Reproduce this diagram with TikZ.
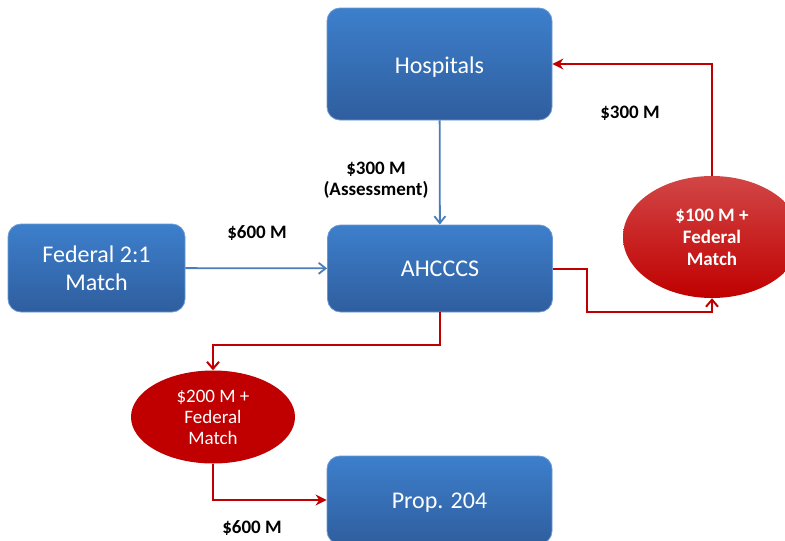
\documentclass[tikz,border=0pt]{standalone}
\usepackage{fontspec}
\setmainfont{Carlito}
\usetikzlibrary{calc,shapes.geometric,arrows.meta}

\definecolor{boxtop}{HTML}{3D7FCC}
\definecolor{boxbot}{HTML}{2F5E9E}
\definecolor{boxedge}{HTML}{6A9AD4}
\definecolor{redtop}{HTML}{D24646}
\definecolor{redbot}{HTML}{C00000}
\definecolor{blueline}{HTML}{4A7EBB}
\definecolor{redline}{HTML}{C00000}

\newcommand{\lowtext}[1]{\raisebox{-3pt}[\height][\depth]{#1}}

\tikzset{
  bluebox/.style={rectangle, rounded corners=13pt, draw=boxedge, line width=0.8pt,
    top color=boxtop, bottom color=boxbot, text=white, minimum width=225pt,
    align=center, inner sep=0pt, font=\fontsize{24}{28}\selectfont},
  redblob/.style={ellipse, inner sep=0pt, text=white, align=center},
  blueflow/.style={draw=blueline, line width=1.8pt, -{Straight Barb[length=7pt,width=11pt]}},
  redflow/.style={draw=redline, line width=2pt},
  lbl/.style={font=\bfseries\fontsize{19}{21}\selectfont, align=center, inner sep=0pt}
}

\begin{document}
\begin{tikzpicture}[x=1pt,y=-1pt]

\useasboundingbox (0,0) rectangle (785,541);

% boxes
\node[bluebox, minimum height=112pt] (hosp) at (439.5,64) {\lowtext{Hospitals}};
\node[bluebox, minimum height=87pt] (ahcccs) at (440,268.5) {AHCCCS};
\node[bluebox, minimum width=177pt, minimum height=88pt] (fed) at (96.5,268) {Federal 2:1\\Match};
\node[bluebox, minimum height=88pt] (prop) at (439.5,500) {\lowtext{Prop. 204}};

% ellipses
\node[redblob, top color=redtop, bottom color=redbot, minimum width=178pt, minimum height=122pt,
  font=\bfseries\fontsize{19}{22}\selectfont] (match1) at (712,237) {\$100 M +\\Federal\\Match};
\node[redblob, fill=redbot, minimum width=164pt, minimum height=93pt,
  font=\fontsize{19}{21}\selectfont] (match2) at (213,417) {\$200 M +\\Federal\\Match};

\coordinate (bend1) at (587,312);

% money flows
\draw[blueflow] (hosp) -- (ahcccs);
\draw[blueflow] (fed) -- (ahcccs);

\draw[redflow, -{Straight Barb[length=7pt,width=12pt]}] (ahcccs.east) -| (bend1) -| (match1.south);
\draw[redflow, -{Stealth[length=11pt,width=11pt]}] (match1.north) |- (hosp.east);
\draw[redflow, -{Straight Barb[length=7pt,width=12pt]}] (ahcccs.south) -- ++(0,33) -| (match2.north);
\draw[redflow, -{Stealth[length=11pt,width=11pt]}] (match2.south) |- (prop.west);

% labels
\node[lbl] (lassess) at (376,180) {\$300 M\\(Assessment)};
\node[lbl] (lfed) at (257,233) {\$600 M};
\node[lbl] (lback) at (630,113) {\$300 M};
\node[lbl] (lprop) at (252,528) {\$600 M};

\end{tikzpicture}
\end{document}
